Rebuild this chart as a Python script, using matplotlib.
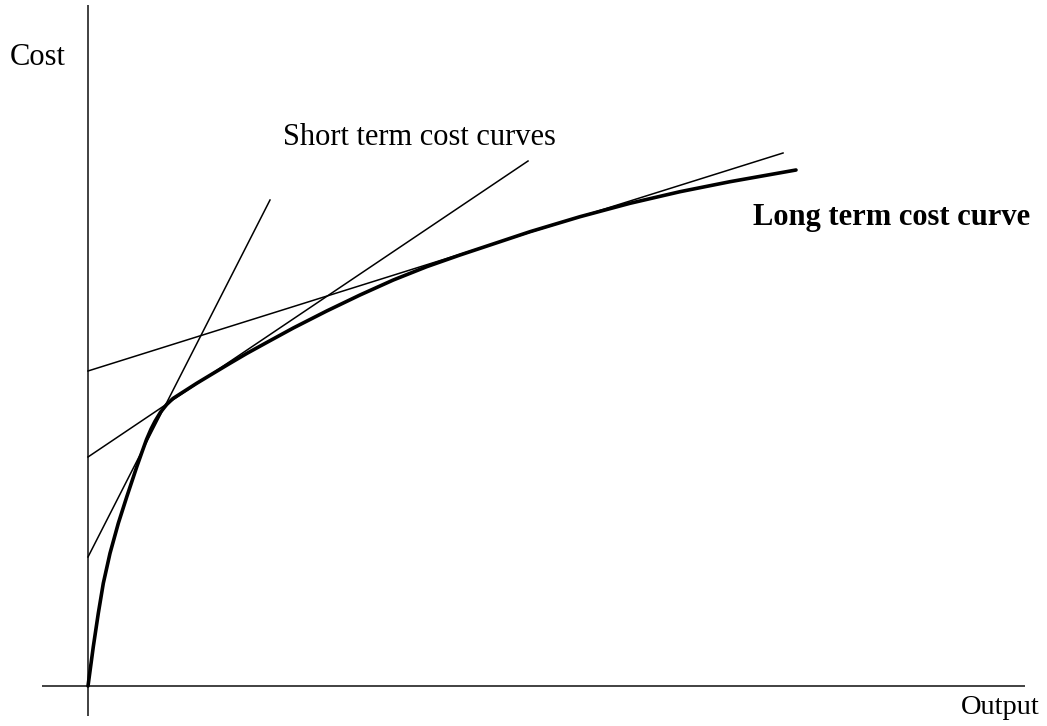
import matplotlib
matplotlib.use("Agg")
import matplotlib.pyplot as plt

# Long-term cost curve (output, cost) in chart units
long_x = [0.0, 0.0757, 0.1471, 0.2186, 0.3143, 0.4329, 0.5529, 0.6957, 0.7714, 0.8357,
          0.9, 0.9571, 1.0357, 1.1243, 1.2143, 1.3143, 1.5529, 1.79, 2.0286, 2.2671, 2.5529,
          2.9329, 3.41, 3.8857, 4.3614, 4.8386, 5.3143, 5.8857, 6.3143, 7.0286, 7.7429,
          8.4571, 9.1714, 10.1143]
long_y = [0.0, 0.7558, 1.3981, 1.975, 2.5519, 3.1288, 3.6346, 4.2115, 4.5, 4.74,
          4.94, 5.09, 5.265, 5.4135, 5.5288, 5.6154, 5.8212, 6.0135, 6.2058, 6.3942, 6.6058,
          6.8846, 7.2115, 7.5192, 7.8077, 8.0635, 8.2885, 8.5442, 8.7365, 9.025, 9.2827,
          9.5058, 9.6981, 9.9231]

# Short-term cost curves: intercept, end output, end cost
short_intercepts = [2.481, 4.404, 6.058]
short_end_x = [2.6, 6.286, 9.929]
short_end_y = [9.346, 10.096, 10.25]

# Axis extents
yaxis_range = [-0.577, 13.096]
xaxis_range = [-0.657, 13.386]

fig = plt.figure(figsize=(10.47, 7.26), dpi=100)
ax = fig.add_axes([0, 0, 1, 1])
ax.set_xlim(-88 / 70, (1047 - 88) / 70)
ax.set_ylim((686 - 726) / 52, 686 / 52)
ax.axis("off")

ax.plot([0, 0], yaxis_range, color="#333333", lw=1.3, solid_capstyle="butt")
ax.plot(xaxis_range, [0, 0], color="#333333", lw=1.3, solid_capstyle="butt")

for b, ex, ey in zip(short_intercepts, short_end_x, short_end_y):
    ax.plot([0, ex], [b, ey], color="black", lw=1.1)

ax.plot(long_x, long_y, color="black", lw=2.6, solid_joinstyle="round",
        solid_capstyle="round")

serif = ["Liberation Serif", "DejaVu Serif"]
fs = 22
ax.text((10 - 88) / 70, (686 - 65) / 52, "Cost", family=serif, fontsize=fs,
        va="baseline", ha="left")
ax.text((1040 - 88) / 70, (686 - 714) / 52, "Output", family=serif, fontsize=20.5,
        va="baseline", ha="right")
ax.text((283 - 88) / 70, (686 - 145) / 52, "Short term cost curves", family=serif,
        fontsize=fs, va="baseline", ha="left")
ax.text((753 - 88) / 70, (686 - 225) / 52, "Long term cost curve", family=serif,
        fontsize=fs, fontweight="bold", va="baseline", ha="left")

fig.savefig("out.png", dpi=100)
